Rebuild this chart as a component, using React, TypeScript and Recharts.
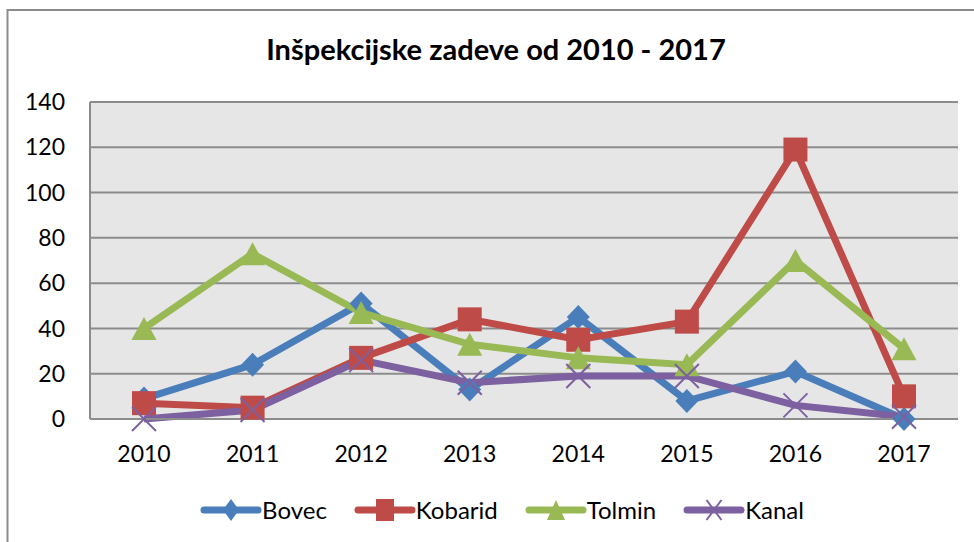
import React from 'react';
import { LineChart, Line, XAxis, YAxis, CartesianGrid, Legend } from 'recharts';

const years = ['2010', '2011', '2012', '2013', '2014', '2015', '2016', '2017'];
const bovec = [9, 24, 51, 13, 45, 8, 21, 0];
const kobarid = [7, 5, 27, 44, 35, 43, 119, 10];
const tolmin = [40, 73, 47, 33, 27, 24, 70, 31];
const kanal = [0, 4, 26, 16, 19, 19, 6, 1];
const yTicks = [0, 20, 40, 60, 80, 100, 120, 140];

const data = years.map((y, i) => ({
  year: y,
  Bovec: bovec[i],
  Kobarid: kobarid[i],
  Tolmin: tolmin[i],
  Kanal: kanal[i],
}));

const C_BOVEC = '#4A7EBB';
const C_KOBARID = '#BE4B48';
const C_TOLMIN = '#98B954';
const C_KANAL = '#7D60A0';
const FONT = 'Lato, "Open Sans", sans-serif';

type Shape = 'diamond' | 'square' | 'triangle' | 'x';

function marker(shape: Shape, cx: number, cy: number, color: string, w: number, h: number, key?: any) {
  const hw = w / 2;
  const hh = h / 2;
  if (shape === 'diamond') {
    return <polygon key={key} points={`${cx},${cy - hh} ${cx + hw},${cy} ${cx},${cy + hh} ${cx - hw},${cy}`} fill={color} />;
  }
  if (shape === 'square') {
    return <rect key={key} x={cx - hw} y={cy - hh} width={w} height={h} fill={color} />;
  }
  if (shape === 'triangle') {
    return <polygon key={key} points={`${cx},${cy - hh} ${cx + hw},${cy + hh} ${cx - hw},${cy + hh}`} fill={color} />;
  }
  return (
    <g key={key}>
      <line x1={cx - hw} y1={cy - hh} x2={cx + hw} y2={cy + hh} stroke={color} strokeWidth={2} />
      <line x1={cx - hw} y1={cy + hh} x2={cx + hw} y2={cy - hh} stroke={color} strokeWidth={2} />
    </g>
  );
}

const makeDot = (shape: Shape, color: string, w: number, h: number) => (props: any) => {
  const { cx, cy, index } = props;
  if (cx == null || cy == null) return <g key={index} />;
  return marker(shape, cx, cy, color, w, h, index);
};

const series: { key: string; color: string; shape: Shape; w: number; h: number; lw: number; lh: number }[] = [
  { key: 'Bovec', color: C_BOVEC, shape: 'diamond', w: 23, h: 24, lw: 16, lh: 22 },
  { key: 'Kobarid', color: C_KOBARID, shape: 'square', w: 24, h: 24, lw: 18, lh: 22 },
  { key: 'Tolmin', color: C_TOLMIN, shape: 'triangle', w: 25, h: 23, lw: 18, lh: 20 },
  { key: 'Kanal', color: C_KANAL, shape: 'x', w: 24, h: 24, lw: 15, lh: 20 },
];

const LegendContent = () => (
  <div style={{ display: 'flex', justifyContent: 'center', alignItems: 'center', gap: 27, fontFamily: FONT, fontSize: 24, color: '#000', paddingLeft: 30 }}>
    {series.map((s) => (
      <div key={s.key} style={{ display: 'flex', alignItems: 'center' }}>
        <svg width={62} height={26} style={{ display: 'block' }}>
          <line x1={4} y1={13} x2={58} y2={13} stroke={s.color} strokeWidth={7} strokeLinecap="round" />
          {marker(s.shape, 31, 13, s.color, s.lw, s.lh)}
        </svg>
        <span style={{ lineHeight: '26px' }}>{s.key}</span>
      </div>
    ))}
  </div>
);

export default function App() {
  return (
    <div style={{ position: 'absolute', left: 0, top: 0, width: 974, height: 542, overflow: 'hidden', background: '#fff' }}>
      <svg width={974} height={542} style={{ position: 'absolute', left: 0, top: 0 }}>
        <rect x={7.5} y={10} width={1000} height={600} fill="#fff" stroke="#8C8C8C" strokeWidth={2} />
        <text x={496} y={60} textAnchor="middle" fontFamily={FONT} fontWeight="bold" fontSize={29} fill="#000">
          Inšpekcijske zadeve od 2010 - 2017
        </text>
      </svg>
      <div style={{ position: 'absolute', left: 0, top: 0 }}>
        <LineChart width={974} height={542} data={data} margin={{ top: 102, right: 16, bottom: 0, left: 0 }}>
          <CartesianGrid vertical={false} fill="#E6E6E6" stroke="#8C8C8C" strokeWidth={2} strokeOpacity={1} />
          <XAxis
            dataKey="year"
            height={123}
            tickLine={false}
            tickSize={0}
            tickMargin={27}
            padding={{ left: 54, right: 54 }}
            axisLine={{ stroke: '#8C8C8C', strokeWidth: 2 }}
            tick={{ fill: '#000', fontSize: 23, fontFamily: FONT }}
            interval={0}
          />
          <YAxis
            width={90}
            domain={[0, 140]}
            ticks={yTicks}
            tickLine={false}
            tickSize={0}
            tickMargin={25}
            axisLine={{ stroke: '#8C8C8C', strokeWidth: 2 }}
            tick={{ fill: '#000', fontSize: 23, fontFamily: FONT }}
            interval={0}
          />
          <Legend
            verticalAlign="middle"
            align="center"
            content={<LegendContent />}
            wrapperStyle={{ position: 'absolute', top: 497, left: 0, width: 974, height: 40 }}
          />
          {series.map((s) => (
            <Line
              key={s.key}
              type="linear"
              dataKey={s.key}
              stroke={s.color}
              strokeWidth={7}
              dot={makeDot(s.shape, s.color, s.w, s.h)}
              activeDot={false}
              isAnimationActive={false}
            />
          ))}
        </LineChart>
      </div>
    </div>
  );
}
